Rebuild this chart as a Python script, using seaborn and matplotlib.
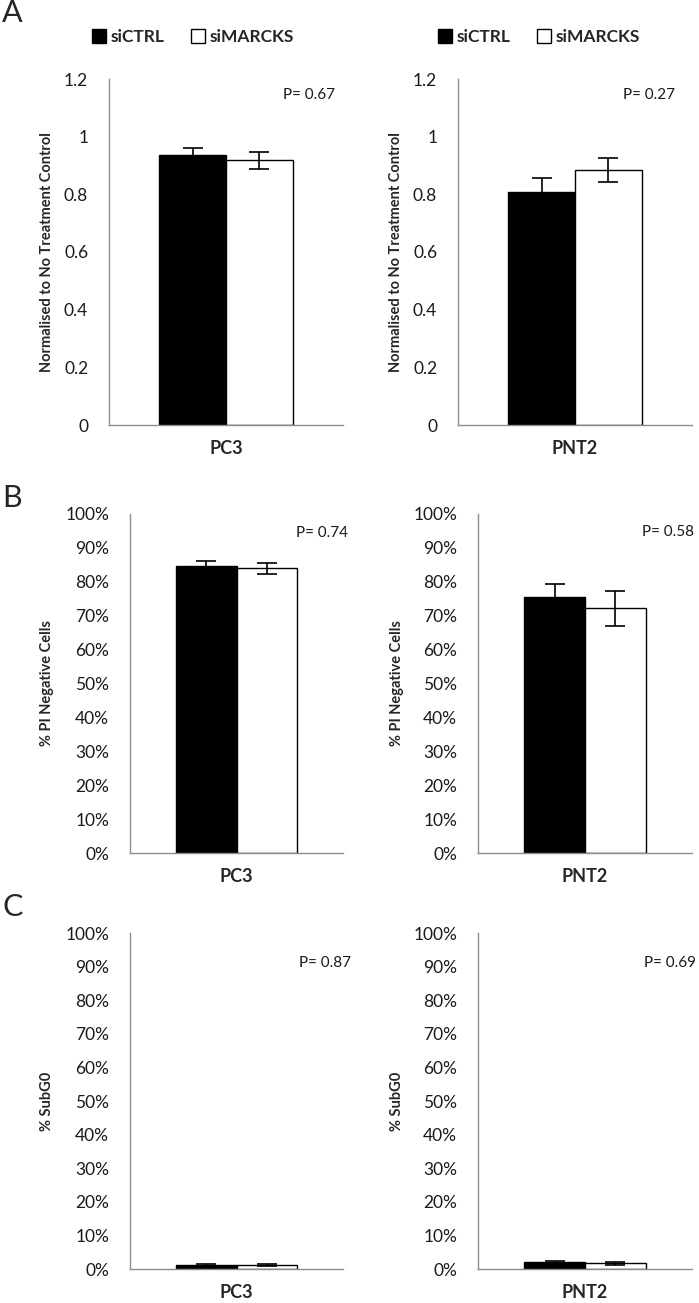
import pandas as pd
import seaborn as sns
import matplotlib.pyplot as plt
from matplotlib.patches import Patch
from matplotlib.ticker import FuncFormatter

cell_lines = ["PC3", "PNT2"]
groups = ["siCTRL", "siMARCKS"]

# values, order siCTRL, siMARCKS
norm_pc3 = [0.935, 0.918]
norm_pc3_err = [0.027, 0.029]
norm_pnt2 = [0.807, 0.884]
norm_pnt2_err = [0.049, 0.042]

pi_pc3 = [84.6, 84.0]
pi_pc3_err = [1.4, 1.6]
pi_pnt2 = [75.6, 72.2]
pi_pnt2_err = [3.8, 5.2]

subg0_pc3 = [1.2, 1.1]
subg0_pc3_err = [0.3, 0.3]
subg0_pnt2 = [2.0, 1.7]
subg0_pnt2_err = [0.3, 0.4]

p_norm = ["0.67", "0.27"]
p_pi = ["0.74", "0.58"]
p_subg0 = ["0.87", "0.69"]

sns.set_style("white")
plt.rcParams['font.family'] = ['Lato', 'DejaVu Sans']

GRAY = "#8c8c8c"
W, H = 699, 1303
fig = plt.figure(figsize=(W / 100, H / 100), dpi=100)


def px_axes(x0, x1, ytop, ybot):
    return fig.add_axes([x0 / W, 1 - ybot / H, (x1 - x0) / W, (ybot - ytop) / H])


def draw_panel(ax, line, vals, errs, ymax, step, pct, ylabel, ylab_x, ptxt, ppos):
    df = pd.DataFrame({"cell": [line] * 2, "group": groups, "value": vals})
    sns.barplot(data=df, x="cell", y="value", hue="group", hue_order=groups,
                palette=["black", "white"], saturation=1, edgecolor="black",
                linewidth=1, width=0.57, errorbar=None, legend=False, ax=ax)
    for cont, e in zip(ax.containers, errs):
        bar = cont[0]
        ax.errorbar(bar.get_x() + bar.get_width() / 2, bar.get_height(), yerr=e,
                    fmt="none", ecolor="black", elinewidth=1.2, capsize=7.5, capthick=1.2)
    ax.set_xlim(-0.5, 0.5)
    ax.set_ylim(0, ymax)
    ticks = [i * step for i in range(int(round(ymax / step)) + 1)]
    ax.set_yticks(ticks)
    if pct:
        ax.yaxis.set_major_formatter(FuncFormatter(lambda v, _: f"{v:.0f}%"))
    else:
        ax.yaxis.set_major_formatter(FuncFormatter(lambda v, _: f"{v:g}"))
    ax.set_xticks([0])
    ax.set_xticklabels([line], fontweight="bold", fontsize=13)
    ax.set_xticks([-0.5, 0.5], minor=True)
    ax.tick_params(axis="x", which="major", length=0, pad=11)
    ax.tick_params(axis="x", which="minor", length=6, width=1, color=GRAY, direction="out")
    ax.tick_params(axis="y", length=6, width=1, color=GRAY, direction="out",
                   pad=9, labelsize=12.5, labelcolor="#1a1a1a")
    ax.set_xlabel("")
    ax.set_ylabel(ylabel, fontweight="bold", fontsize=10.5)
    ax.yaxis.set_label_coords(ylab_x, 0.5)
    sns.despine(ax=ax)
    for s in ["left", "bottom"]:
        ax.spines[s].set_color(GRAY)
        ax.spines[s].set_linewidth(1)
    ax.text(ppos[0], ppos[1], "P= " + ptxt, transform=ax.transAxes,
            ha="left", va="center", fontsize=11, color="#1a1a1a")


# panel A
axA1 = px_axes(109, 343, 79, 425)
axA2 = px_axes(458, 692, 79, 425)
draw_panel(axA1, cell_lines[0], norm_pc3, norm_pc3_err, 1.2, 0.2, False,
           "Normalised to No Treatment Control", -0.235, p_norm[0], (0.745, 0.954))
draw_panel(axA2, cell_lines[1], norm_pnt2, norm_pnt2_err, 1.2, 0.2, False,
           "Normalised to No Treatment Control", -0.235, p_norm[1], (0.705, 0.954))

# panel B
axB1 = px_axes(130, 343, 514, 853)
axB2 = px_axes(478, 692, 514, 853)
draw_panel(axB1, cell_lines[0], pi_pc3, pi_pc3_err, 100, 10, True,
           "% PI Negative Cells", -0.357, p_pi[0], (0.78, 0.944))
draw_panel(axB2, cell_lines[1], pi_pnt2, pi_pnt2_err, 100, 10, True,
           "% PI Negative Cells", -0.346, p_pi[1], (0.765, 0.947))

# panel C
axC1 = px_axes(130, 343, 933, 1269)
axC2 = px_axes(478, 692, 933, 1269)
draw_panel(axC1, cell_lines[0], subg0_pc3, subg0_pc3_err, 100, 10, True,
           "% SubG0", -0.357, p_subg0[0], (0.795, 0.911))
draw_panel(axC2, cell_lines[1], subg0_pnt2, subg0_pnt2_err, 100, 10, True,
           "% SubG0", -0.346, p_subg0[1], (0.775, 0.911))

# legends above panel A
handles = [Patch(facecolor="black", edgecolor="black"),
           Patch(facecolor="white", edgecolor="black")]
for ax, xc in [(axA1, 0.36), (axA2, 0.346)]:
    ax.legend(handles, groups, loc="center", bbox_to_anchor=(xc, 1.121), ncol=2,
              frameon=False, prop=dict(weight="bold", size=12.5), handlelength=0.8,
              handleheight=0.8, handletextpad=0.3, columnspacing=1.5)

for letter, y in [("A", 13), ("B", 498), ("C", 907)]:
    fig.text(2 / W, 1 - y / H, letter, fontsize=22, va="center", ha="left")

fig.savefig("out.png", dpi=100)
